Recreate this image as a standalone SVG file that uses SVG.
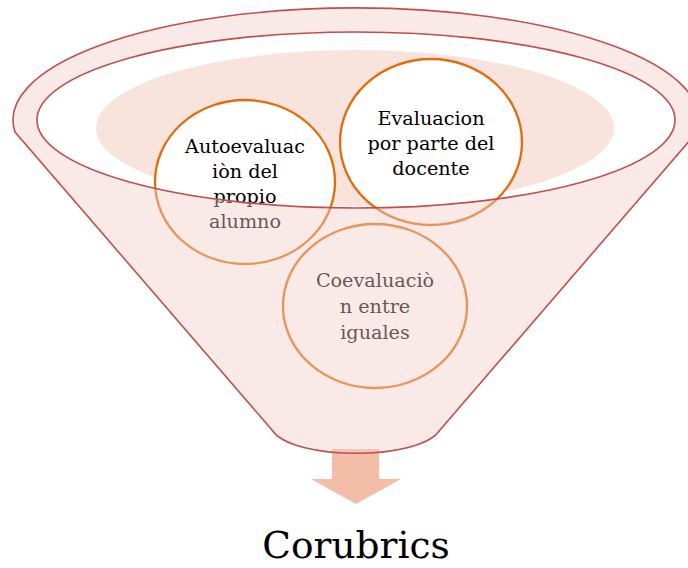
<svg xmlns="http://www.w3.org/2000/svg" width="688" height="568" viewBox="0 0 688 568">
<style>
.circ{fill:#ffffff;stroke:#E36C09;stroke-width:2.3}
.serif{font-family:"DejaVu Serif","Liberation Serif",serif}
.lbl{font-size:19.2px;fill:#000000;text-anchor:middle}
.fun{stroke:#C0504D;stroke-width:1.6}
</style>
<rect width="688" height="568" fill="#ffffff"/>
<g id="funnel-back">
<ellipse cx="356" cy="120" rx="319" ry="88" fill="#ffffff"/>
<ellipse cx="355" cy="128" rx="259" ry="78" fill="#F9E4DD"/>
</g>
<g id="connectors">
<path d="M332,449 H379 V479 H401 L356,504 L311,479 H332 Z" fill="#F4BDA7"/>
</g>
<g id="node-auto">
<ellipse class="circ" cx="245" cy="182" rx="90" ry="82"/>
<text class="serif lbl" x="245" y="153">Autoevaluac</text>
<text class="serif lbl" x="245" y="178">iòn del</text>
<text class="serif lbl" x="245" y="203">propio</text>
<text class="serif lbl" x="245" y="228">alumno</text>
</g>
<g id="node-docente">
<ellipse class="circ" cx="431" cy="142" rx="91" ry="83"/>
<text class="serif lbl" x="431" y="125">Evaluacion</text>
<text class="serif lbl" x="431" y="150">por parte del</text>
<text class="serif lbl" x="431" y="175">docente</text>
</g>
<g id="node-coeval">
<ellipse class="circ" cx="375" cy="306" rx="92" ry="82"/>
<text class="serif lbl" x="375" y="287">Coevaluaciò</text>
<text class="serif lbl" x="375" y="313">n entre</text>
<text class="serif lbl" x="375" y="339">iguales</text>
</g>
<g id="funnel-front">
<path class="fun" fill="#F0CCC5" fill-opacity="0.42" fill-rule="evenodd" d="M15,132 A343,112 0 1 1 697,132 L440,430 C420,461 292,461 272,430 Z M37,120 A319,88 0 1 0 675,120 A319,88 0 1 0 37,120 Z"/>
</g>
<g id="node-result">
<text class="serif" x="356" y="558" font-size="37.5" text-anchor="middle" fill="#000000">Corubrics</text>
</g>
</svg>
